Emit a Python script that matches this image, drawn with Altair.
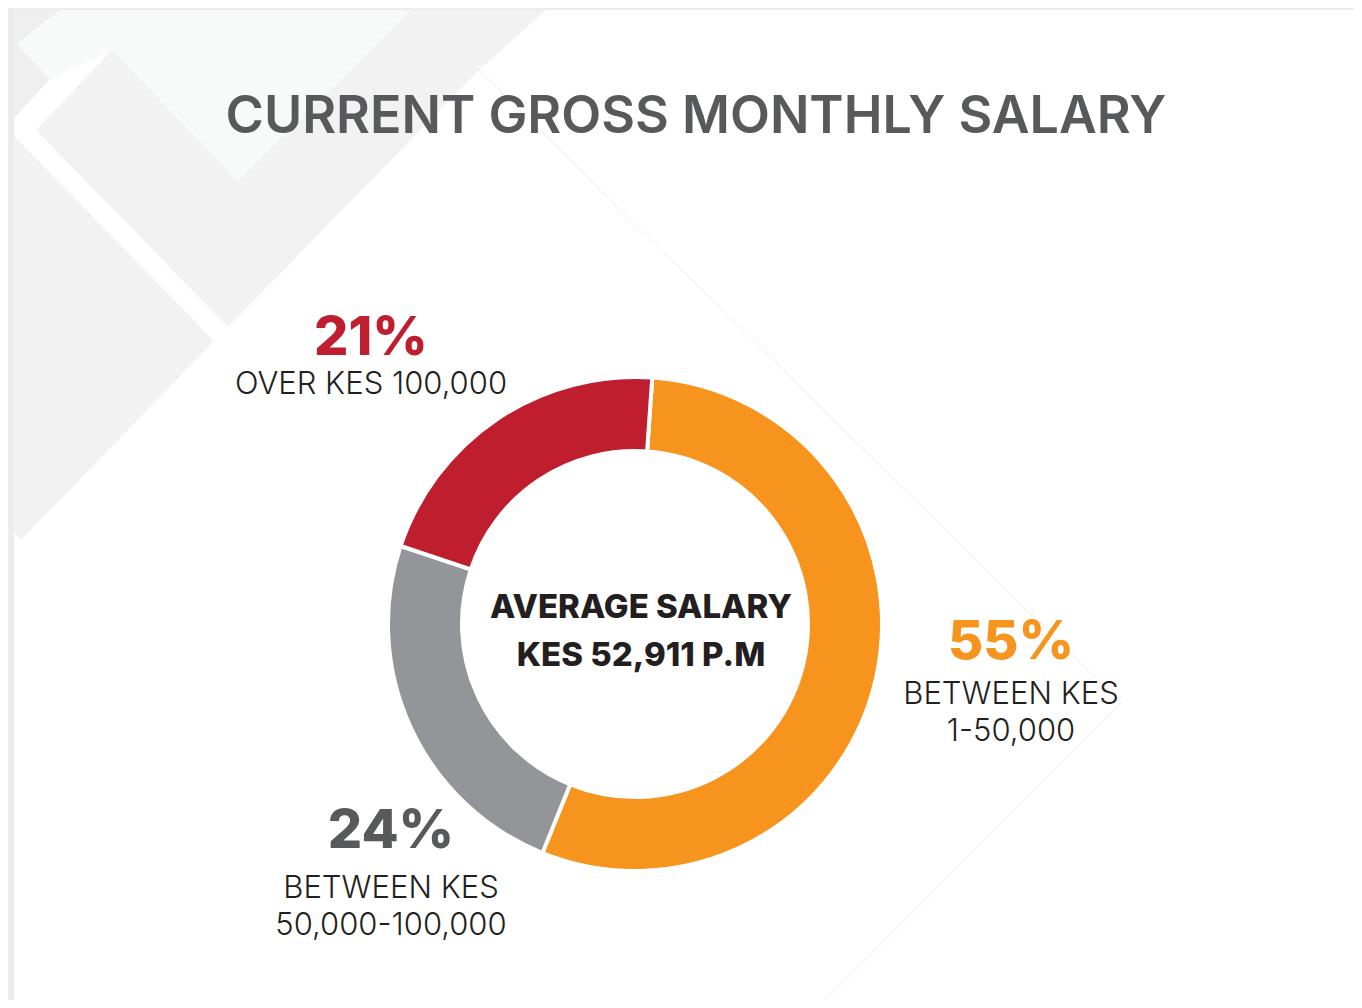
import math
import altair as alt
import pandas as pd

# ---------------- data ----------------
categories = ["BETWEEN KES 1-50,000", "BETWEEN KES 50,000-100,000", "OVER KES 100,000"]
shares = [55, 24, 21]
slice_colors = ["#f7941d", "#939598", "#be1e2d"]
pct_colors = ["#f7941d", "#58595b", "#be1e2d"]
label_lines = [["BETWEEN KES", "1-50,000"], ["BETWEEN KES", "50,000-100,000"], ["OVER KES 100,000"]]
title_text = "CURRENT GROSS MONTHLY SALARY"
center_lines = ["AVERAGE SALARY", "KES 52,911 P.M"]

# ---------------- layout ----------------
W, H = 1346, 992
M = 8  # page margin
FONT = "Inter"
CX, CY = 635, 624
R_OUT, R_IN = 247, 173
START = 0.07  # rotation of first slice (radians)

# label anchor (page pixels): center x, baseline of percent, baselines of lines
label_pos = [
    (1011, 659, [704, 741]),
    (391, 848, [898, 935]),
    (371, 355, [394]),
]


def X(v):
    return v - M


def Y(v):
    return v - M


def text_layer(text, x, y, size, color, weight):
    return alt.Chart(pd.DataFrame({"t": [text]})).mark_text(
        font=FONT, fontSize=size, fontWeight=weight, color=color,
        align="center", baseline="alphabetic",
    ).encode(text="t:N", x=alt.value(X(x)), y=alt.value(Y(y)))


def poly(points, color):
    pts = [[X(a), Y(b)] for a, b in points]
    pts.append(pts[0])
    feat = {"type": "Feature", "properties": {},
            "geometry": {"type": "Polygon", "coordinates": [pts]}}
    return alt.Chart(alt.Data(values=[feat])).mark_geoshape(
        fill=color, strokeWidth=0).project(type="identity", scale=1, translate=[0, 0])


def line(points, color):
    pts = [[X(a), Y(b)] for a, b in points]
    feat = {"type": "Feature", "properties": {},
            "geometry": {"type": "LineString", "coordinates": pts}}
    return alt.Chart(alt.Data(values=[feat])).mark_geoshape(
        filled=False, stroke=color, strokeWidth=1).project(type="identity", scale=1, translate=[0, 0])


# ---------------- background decoration ----------------
deco = [
    poly([(0, 0), (1362, 0), (1362, 10), (0, 10)], "#ececec"),
    poly([(0, 0), (14, 0), (14, 1008), (0, 1008)], "#ececec"),
    poly([(14, 10), (59, 10), (16, 43), (50, 79), (14, 118)], "#efefef"),
    poly([(16, 43), (59, 10), (411, 10), (238, 181), (112, 50), (50, 79)], "#f8f9f9"),
    poly([(36, 130), (112, 50), (238, 181), (411, 10), (546, 10), (479, 70), (228, 327)], "#f2f2f2"),
    poly([(14, 136), (214, 341), (21, 540), (14, 532)], "#f2f2f2"),
    line([(479, 70), (1121, 703), (817, 1008)], "#ebebeb"),
    line([(16, 43), (59, 10)], "#e6e6e6"),
]

# ---------------- donut ----------------
df = pd.DataFrame({"category": categories, "share": shares, "idx": list(range(len(shares)))})
donut = alt.Chart(df).mark_arc(
    radius=R_OUT, radius2=R_IN, stroke="white", strokeWidth=4,
).encode(
    theta=alt.Theta("share:Q", stack=True,
                    scale=alt.Scale(range=[START, START + 2 * math.pi])),
    color=alt.Color("category:N", scale=alt.Scale(domain=categories, range=slice_colors), legend=None),
    order=alt.Order("idx:Q"),
    x=alt.value(X(CX)),
    y=alt.value(Y(CY)),
)

# ---------------- texts ----------------
texts = [text_layer(title_text, 696, 133, 52, "#58595b", 600)]
for v, col, lines, (lx, py, lys) in zip(shares, pct_colors, label_lines, label_pos):
    texts.append(text_layer(f"{v}%", lx, py, 54, col, 800))
    for ln, ly in zip(lines, lys):
        texts.append(text_layer(ln, lx, ly, 31, "#231f20", 300))
texts.append(text_layer(center_lines[0], 641, 618, 33, "#231f20", 800))
texts.append(text_layer(center_lines[1], 641, 666, 33, "#231f20", 800))

chart = alt.layer(*deco, donut, *texts).properties(
    width=W, height=H, padding=0,
    autosize=alt.AutoSizeParams(type="fit", contains="padding"),
).configure_view(stroke=None).configure(background="white")

chart.save("out.html", embed_options={"renderer": "svg", "actions": False})
